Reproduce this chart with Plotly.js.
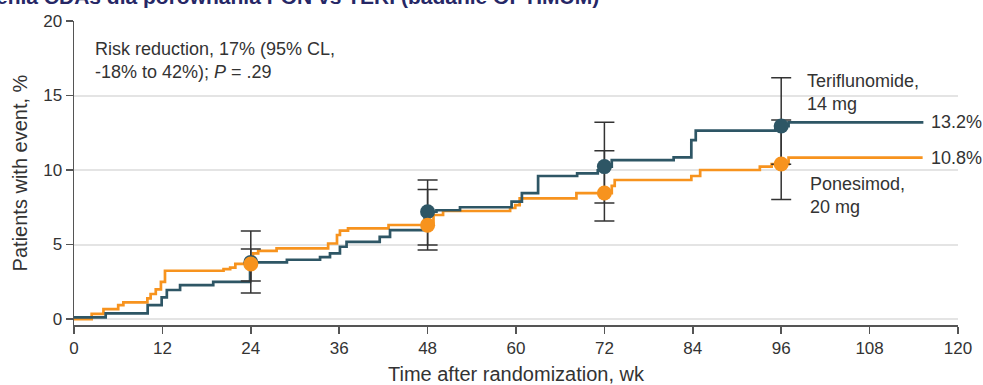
<!DOCTYPE html>
<html>
<head>
<meta charset="utf-8">
<script src="https://cdn.plot.ly/plotly-3.0.1.min.js"></script>
<style>html,body{margin:0;padding:0;background:#fff;}#chart{width:983px;height:385px;}</style>
</head>
<body>
<div id="chart"></div>
<script>
// ---- data ----
const teriWeeks = [0, 4.3, 10.0, 11.9, 12.6, 14.4, 18.9, 23.9, 28.9, 33.4, 34.75, 36.1, 37.0, 41.5, 42.9, 47.6, 49.2, 52.4, 59.4, 60.8, 63.0, 68.3, 71.1, 72.0, 73.0, 81.4, 83.8, 84.4, 95.2, 97.0, 115.3];
const teriPct   = [0.11, 0.38, 0.94, 1.46, 1.95, 2.28, 2.5, 3.8, 3.98, 4.15, 4.4, 4.85, 5.18, 5.52, 5.97, 7.2, 7.3, 7.5, 7.88, 8.45, 9.6, 9.78, 9.98, 10.23, 10.67, 10.85, 12.0, 12.64, 12.95, 13.2, 13.2];

const poneWeeks = [0, 2.4, 4.0, 6.0, 6.7, 9.96, 10.4, 11.1, 11.8, 12.35, 20.3, 21.2, 21.9, 24.3, 25.0, 27.5, 34.5, 35.7, 36.1, 37.2, 42.7, 48.8, 50.1, 59.2, 59.9, 60.5, 68.2, 73.0, 73.4, 83.8, 85.0, 93.1, 94.7, 97.0, 115.2];
const ponePct   = [0.0, 0.34, 0.67, 0.94, 1.12, 1.39, 1.68, 1.99, 2.5, 3.24, 3.35, 3.45, 3.7, 4.4, 4.58, 4.74, 5.07, 5.64, 5.93, 6.08, 6.31, 6.98, 7.25, 7.45, 7.65, 8.1, 8.45, 8.93, 9.33, 9.6, 10.0, 10.23, 10.4, 10.83, 10.83];

const markWeeks = [24, 48, 72, 96];
const teriMark  = [3.8, 7.2, 10.23, 12.95];
const teriUpper = [5.9, 9.33, 13.2, 16.2];
const teriLower = [2.55, 4.97, 7.79, 10.38];
const poneMark  = [3.69, 6.3, 8.46, 10.4];
const poneUpper = [4.7, 8.7, 11.3, 13.36];
const poneLower = [1.75, 4.63, 6.58, 8.03];

const xTicks = [0, 12, 24, 36, 48, 60, 72, 84, 96, 108, 120];
const yTicks = [0, 5, 10, 15, 20];

const teriName = "Teriflunomide,<br>14 mg";
const poneName = "Ponesimod,<br>20 mg";
const teriEnd = "13.2%";
const poneEnd = "10.8%";
const riskText = "Risk reduction, 17% (95% CL,<br>-18% to 42%); <i>P</i> = .29";
const topTitle = "enia CDAs dla porównania PON vs TERI (badanie OPTIMUM)";

// ---- styles ----
const TEAL = "#2e5665";
const ORANGE = "#f7931e";
const TXT = "#333333";
const FONT = "Liberation Sans, Arial, sans-serif";

const diff = (a, b) => a.map((v, i) => v - b[i]);

const traces = [
  {x: poneWeeks, y: ponePct, mode: "lines", line: {shape: "hv", color: ORANGE, width: 2.7}, hoverinfo: "skip", showlegend: false},
  {x: teriWeeks, y: teriPct, mode: "lines", line: {shape: "hv", color: TEAL, width: 2.7}, hoverinfo: "skip", showlegend: false},
  {x: markWeeks, y: teriMark, mode: "markers", marker: {size: 1, opacity: 0}, showlegend: false,
   error_y: {type: "data", symmetric: false, array: diff(teriUpper, teriMark), arrayminus: diff(teriMark, teriLower), color: "#333", thickness: 1.5, width: 10}},
  {x: markWeeks, y: poneMark, mode: "markers", marker: {size: 1, opacity: 0}, showlegend: false,
   error_y: {type: "data", symmetric: false, array: diff(poneUpper, poneMark), arrayminus: diff(poneMark, poneLower), color: "#333", thickness: 1.5, width: 10}},
  {x: markWeeks, y: teriMark, mode: "markers", marker: {size: 15, color: TEAL}, showlegend: false, cliponaxis: false},
  {x: markWeeks, y: poneMark, mode: "markers", marker: {size: 15, color: ORANGE}, showlegend: false, cliponaxis: false}
];

const layout = {
  width: 983, height: 385,
  margin: {l: 74, r: 25, t: 21, b: 60},
  paper_bgcolor: "#fff", plot_bgcolor: "#fff",
  font: {family: FONT, color: TXT, size: 17},
  showlegend: false,
  xaxis: {
    range: [0, 120], tickvals: xTicks, ticktext: xTicks.map(String),
    showgrid: false, zeroline: false, showline: true, linecolor: "#555", linewidth: 1.5,
    ticks: "outside", ticklen: 7, tickcolor: "#555", tickwidth: 1.5,
    tickfont: {size: 17, color: TXT},
    title: {text: "Time after randomization, wk", font: {size: 20, color: TXT}, standoff: 13}
  },
  yaxis: {
    range: [-0.4, 20], tickvals: yTicks, ticktext: yTicks.map(String),
    showgrid: true, gridcolor: "#e4e4e4", gridwidth: 2, zeroline: false,
    showline: true, linecolor: "#555", linewidth: 1.5,
    ticks: "outside", ticklen: 7, tickcolor: "#555", tickwidth: 1.5,
    tickfont: {size: 17, color: TXT},
    title: {text: "Patients with event, %", font: {size: 20, color: TXT}, standoff: 10}
  },
  annotations: [
    {xref: "x", yref: "y", x: 2.58, y: 18.9, xanchor: "left", yanchor: "top", align: "left", showarrow: false, text: riskText, font: {size: 18, color: TXT}},
    {xref: "x", yref: "y", x: 99.2, y: 16.8, xanchor: "left", yanchor: "top", align: "left", showarrow: false, text: teriName, font: {size: 18, color: TXT}},
    {xref: "x", yref: "y", x: 99.6, y: 9.87, xanchor: "left", yanchor: "top", align: "left", showarrow: false, text: poneName, font: {size: 18, color: TXT}},
    {xref: "x", yref: "y", x: 116.0, y: 13.22, xanchor: "left", yanchor: "middle", showarrow: false, text: teriEnd, font: {size: 18, color: TXT}},
    {xref: "x", yref: "y", x: 116.0, y: 10.8, xanchor: "left", yanchor: "middle", showarrow: false, text: poneEnd, font: {size: 18, color: TXT}},
    {xref: "paper", yref: "paper", x: 0, y: 1, xshift: -80, yshift: 11, xanchor: "left", yanchor: "bottom", showarrow: false, text: "<b>" + topTitle + "</b>", font: {size: 21, color: "#262766"}}
  ]
};

Plotly.newPlot("chart", traces, layout, {displayModeBar: false, staticPlot: true});
</script>
</body>
</html>
